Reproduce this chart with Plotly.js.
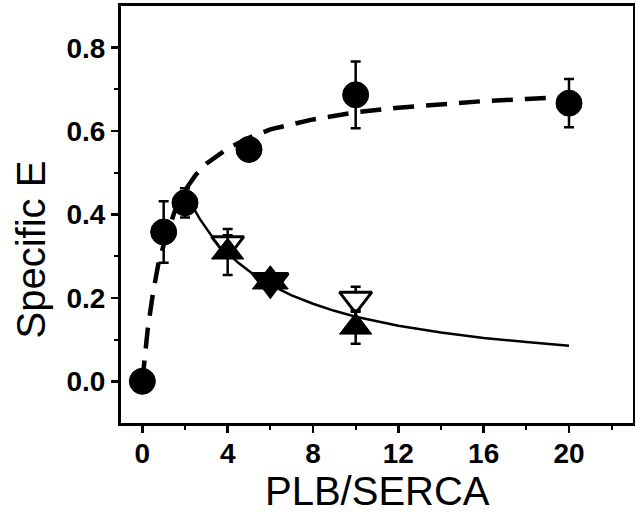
<!DOCTYPE html>
<html>
<head>
<meta charset="utf-8">
<script src="https://cdn.plot.ly/plotly-3.0.1.min.js"></script>
<style>html,body{margin:0;padding:0;background:#fff;}#chart{width:635px;height:514px;}</style>
</head>
<body>
<div id="chart"></div>
<script>
// Filled circles (with error bars)
var circleX = [0, 1, 2, 5, 10, 20];
var circleY = [0.0, 0.358, 0.428, 0.556, 0.687, 0.667];
var circleErr = [0.0, 0.074, 0.035, 0.025, 0.08, 0.058];

// Down-triangles (open; the one at 6 is hidden inside the star)
var downX = [4, 6, 10];
var downY = [0.33, 0.24, 0.197];
var downErr = [0.02, 0.01, 0.03];
var downFill = ['#fff', '#000', '#fff'];

// Filled up-triangles
var upX = [4, 6, 10];
var upY = [0.31, 0.24, 0.13];
var upErr = [0.055, 0.01, 0.04];

// Dashed fit curve
var dashX = [0, 0.1, 0.25, 0.5, 0.75, 1, 1.5, 2, 2.5, 3, 4, 5, 6, 8, 10, 12, 14, 16, 18, 20];
var dashY = [0, 0.055, 0.124, 0.212, 0.281, 0.327, 0.405, 0.458, 0.495, 0.522, 0.558, 0.584, 0.604, 0.628, 0.645, 0.656, 0.665, 0.672, 0.677, 0.682];

// Solid fit curve
var solidX = [2.3, 2.7, 3.2, 3.8, 4.5, 5.2, 6, 7, 8, 9, 10, 12, 14, 16, 18, 20];
var solidY = [0.424, 0.389, 0.352, 0.317, 0.284, 0.257, 0.231, 0.206, 0.186, 0.169, 0.155, 0.133, 0.117, 0.104, 0.094, 0.085];

var xTicks = [0, 4, 8, 12, 16, 20];
var yTicks = [0.0, 0.2, 0.4, 0.6, 0.8];

var triSize = [28, 31, 28];

var traces = [
  {x: dashX, y: dashY, type: 'scatter', mode: 'lines',
   line: {color: '#000', width: 4.5, dash: '21px,12px'}, hoverinfo: 'skip'},
  {x: solidX, y: solidY, type: 'scatter', mode: 'lines',
   line: {color: '#000', width: 2.5}, hoverinfo: 'skip'},
  {x: circleX, y: circleY, type: 'scatter', mode: 'markers',
   marker: {symbol: 'circle', size: 26, color: '#000', opacity: 1, line: {color: '#000', width: 1}},
   error_y: {type: 'data', array: circleErr, visible: true, color: '#000', thickness: 2.5, width: 5}},
  {x: downX, y: downY, type: 'scatter', mode: 'markers',
   marker: {symbol: 'triangle-down', size: triSize, color: downFill, opacity: 1, line: {color: '#000', width: 3}},
   error_y: {type: 'data', array: downErr, visible: true, color: '#000', thickness: 2.5, width: 5}},
  {x: upX, y: upY, type: 'scatter', mode: 'markers',
   marker: {symbol: 'triangle-up', size: triSize, color: '#000', opacity: 1, line: {color: '#000', width: 1}},
   error_y: {type: 'data', array: upErr, visible: true, color: '#000', thickness: 2.5, width: 5}}
];

var tickFont = {family: 'Liberation Sans, Arial, sans-serif', size: 28, color: '#000', weight: 'bold'};

var layout = {
  width: 635, height: 514,
  margin: {l: 121, r: 2, t: 6, b: 91, pad: 0},
  paper_bgcolor: '#fff', plot_bgcolor: '#fff',
  showlegend: false,
  xaxis: {
    range: [-1, 23], tickvals: xTicks, ticktext: xTicks.map(String),
    ticks: 'outside', ticklen: 7, tickwidth: 2.5, tickcolor: '#000',
    ticklabelstandoff: -4,
    minor: {ticks: 'outside', ticklen: 4, tickwidth: 2, tickcolor: '#000', tickvals: [2, 6, 10, 14, 18, 22]},
    showline: true, linewidth: 3, linecolor: '#000', mirror: true,
    showgrid: false, zeroline: false, tickfont: tickFont
  },
  yaxis: {
    range: [-0.1, 0.9], tickvals: yTicks, ticktext: yTicks.map(function(v){return v.toFixed(1);}),
    ticks: 'outside', ticklen: 7, tickwidth: 2.5, tickcolor: '#000',
    minor: {ticks: 'outside', ticklen: 4, tickwidth: 2, tickcolor: '#000', tickvals: [0.1, 0.3, 0.5, 0.7]},
    showline: true, linewidth: 3, linecolor: '#000', mirror: true,
    showgrid: false, zeroline: false, tickfont: tickFont
  },
  annotations: [
    {text: 'PLB/SERCA', xref: 'paper', yref: 'paper', x: 0.5, y: -0.2182, xanchor: 'center', yanchor: 'bottom',
     showarrow: false, borderpad: 0, font: {family: 'Liberation Sans, Arial, sans-serif', size: 40, color: '#000'}},
    {text: 'Specific E', xref: 'paper', yref: 'paper', x: -0.175, y: 0.417, xanchor: 'center', yanchor: 'middle',
     textangle: -90, showarrow: false, font: {family: 'Liberation Sans, Arial, sans-serif', size: 40, color: '#000'}}
  ]
};

Plotly.newPlot('chart', traces, layout, {displayModeBar: false, staticPlot: true});
</script>
</body>
</html>
